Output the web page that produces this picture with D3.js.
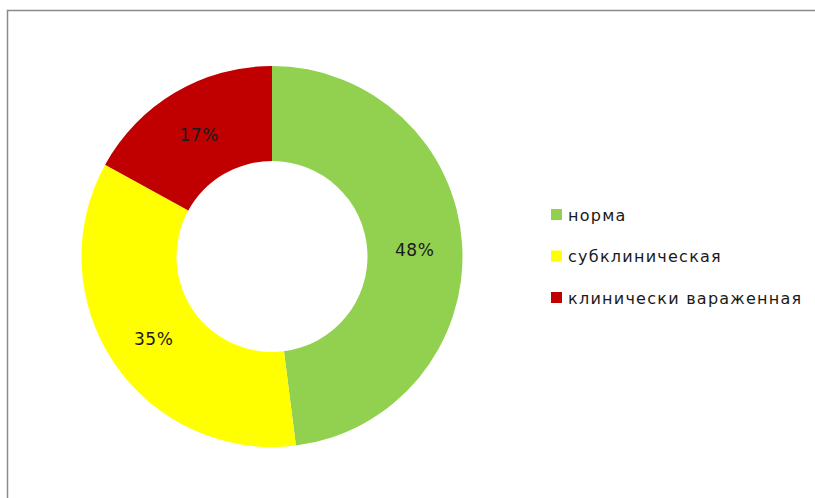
<!DOCTYPE html>
<html>
<head>
<meta charset="utf-8">
<script src="https://cdn.jsdelivr.net/npm/d3@7"></script>
<style>
  html, body { margin: 0; padding: 0; background: #fff; }
  svg { display: block; }
</style>
</head>
<body>
<svg id="chart" width="815" height="498"></svg>
<script>
// Shares of each group, in percent
const categories = ["норма", "субклиническая", "клинически вараженная"];
const values = [48, 35, 17];
const colors = ["#92D050", "#FFFF00", "#C00000"];

const svg = d3.select("#chart");

// Frame around the chart area (right and bottom edges fall outside the view)
svg.append("rect")
  .attr("x", 7.5).attr("y", 10.5)
  .attr("width", 900).attr("height", 600)
  .attr("fill", "#fff")
  .attr("stroke", "#8a8a8a")
  .attr("stroke-width", 1.5);

const cx = 272, cy = 256.5;
const outerR = 190.5, innerR = 95.5;

const pie = d3.pie().sort(null).value(d => d.value);
const arcs = pie(categories.map((c, i) => ({ name: c, value: values[i], color: colors[i] })));

const arc = d3.arc().innerRadius(innerR).outerRadius(outerR);
const labelArc = d3.arc().innerRadius((innerR + outerR) / 2).outerRadius((innerR + outerR) / 2);

const g = svg.append("g").attr("transform", `translate(${cx},${cy})`);

g.selectAll("path.slice")
  .data(arcs)
  .join("path")
  .attr("class", "slice")
  .attr("d", arc)
  .attr("fill", d => d.data.color);

g.selectAll("text.pct")
  .data(arcs)
  .join("text")
  .attr("class", "pct")
  .attr("transform", d => `translate(${labelArc.centroid(d)})`)
  .attr("text-anchor", "middle")
  .attr("dominant-baseline", "central")
  .attr("dy", 2)
  .attr("font-family", "DejaVu Sans, Verdana, sans-serif")
  .attr("font-size", 17)
  .attr("letter-spacing", 0.6)
  .attr("fill", "#1a1a1a")
  .text(d => d.data.value + "%");

// Legend
const legendX = 551, legendY0 = 215, legendStep = 41.5;
const legend = svg.append("g");
const rows = legend.selectAll("g.row")
  .data(arcs)
  .join("g")
  .attr("class", "row")
  .attr("transform", (d, i) => `translate(${legendX},${legendY0 + i * legendStep})`);

rows.append("rect")
  .attr("x", 0).attr("y", -6)
  .attr("width", 11).attr("height", 11)
  .attr("fill", d => d.data.color);

rows.append("text")
  .attr("x", 17)
  .attr("y", 0)
  .attr("dominant-baseline", "central")
  .attr("font-family", "DejaVu Sans, Verdana, sans-serif")
  .attr("font-size", 16)
  .attr("letter-spacing", 1.25)
  .attr("fill", "#1a1a1a")
  .text(d => d.data.name);
</script>
</body>
</html>
